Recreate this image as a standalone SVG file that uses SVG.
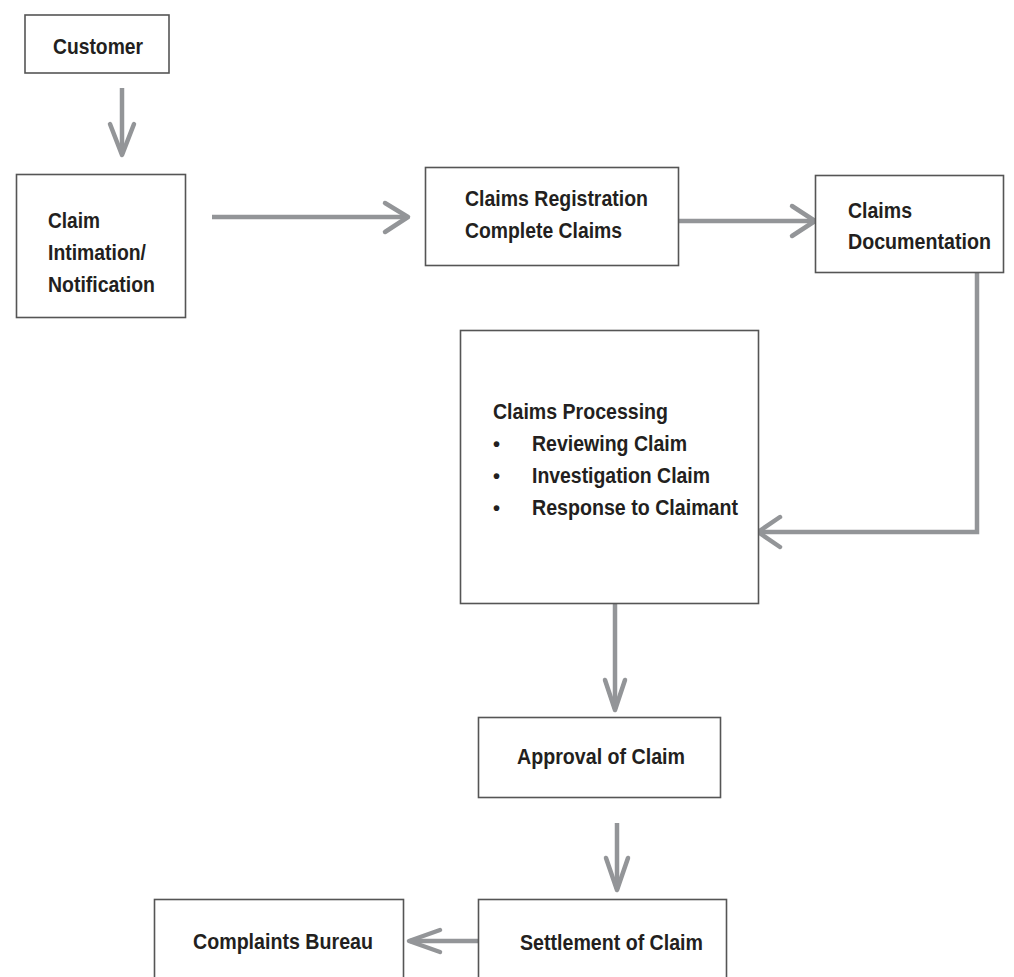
<svg xmlns="http://www.w3.org/2000/svg" width="1014" height="977" viewBox="0 0 1014 977">
<style>
.box{fill:#ffffff;stroke:#555555;stroke-width:1.6}
.t{font-family:"Liberation Sans",Arial,sans-serif;font-weight:bold;font-size:22px;fill:#231f20}
.b{font-family:"Liberation Sans",Arial,sans-serif;font-weight:bold;font-size:20px;fill:#231f20}
.c{fill:none;stroke:#939598;stroke-width:4.5;stroke-linejoin:miter}
.h{fill:none;stroke:#939598;stroke-width:4.5;stroke-linecap:round;stroke-linejoin:round}
</style>
<rect width="1014" height="977" fill="#ffffff"/>
<g id="connectors">
<line class="c" x1="122" y1="88" x2="122" y2="154"/>
<path class="h" d="M110,124 L122,155 L134,124"/>
<line class="c" x1="212" y1="217" x2="406" y2="217"/>
<path class="h" d="M385,203 L408,217 L385,232"/>
<line class="c" x1="678" y1="221" x2="813" y2="221"/>
<path class="h" d="M792,206 L815,221 L792,236"/>
<polyline class="c" points="977,273 977,532 759,532"/>
<path class="h" d="M780,517 L758,532 L780,547"/>
<line class="c" x1="615" y1="603" x2="615" y2="709"/>
<path class="h" d="M605,680 L615,710 L625,680"/>
<line class="c" x1="617" y1="823" x2="617" y2="889"/>
<path class="h" d="M606,858 L617,890 L628,858"/>
<line class="c" x1="478" y1="941" x2="410" y2="941"/>
<path class="h" d="M440,930 L409,941 L440,952"/>
</g>
<g id="customer">
<rect class="box" x="25" y="15" width="144" height="58"/>
<text class="t" x="53" y="54" textLength="90" lengthAdjust="spacingAndGlyphs">Customer</text>
</g>
<g id="claim-intimation">
<rect class="box" x="16.5" y="174.5" width="169" height="143"/>
<text class="t" x="48" y="228" textLength="52" lengthAdjust="spacingAndGlyphs">Claim</text>
<text class="t" x="48" y="260" textLength="98" lengthAdjust="spacingAndGlyphs">Intimation/</text>
<text class="t" x="48" y="292" textLength="107" lengthAdjust="spacingAndGlyphs">Notification</text>
</g>
<g id="claims-registration">
<rect class="box" x="425.5" y="167.5" width="253" height="98"/>
<text class="t" x="465" y="206" textLength="183" lengthAdjust="spacingAndGlyphs">Claims Registration</text>
<text class="t" x="465" y="238" textLength="157" lengthAdjust="spacingAndGlyphs">Complete Claims</text>
</g>
<g id="claims-documentation">
<rect class="box" x="815.5" y="175.5" width="188" height="97"/>
<text class="t" x="848" y="218" textLength="64" lengthAdjust="spacingAndGlyphs">Claims</text>
<text class="t" x="848" y="249" textLength="143" lengthAdjust="spacingAndGlyphs">Documentation</text>
</g>
<g id="claims-processing">
<rect class="box" x="460.5" y="330.5" width="298" height="273"/>
<text class="t" x="493" y="419" textLength="175" lengthAdjust="spacingAndGlyphs">Claims Processing</text>
<text class="b" x="493" y="451">•</text>
<text class="t" x="532" y="451" textLength="155" lengthAdjust="spacingAndGlyphs">Reviewing Claim</text>
<text class="b" x="493" y="483">•</text>
<text class="t" x="532" y="483" textLength="178" lengthAdjust="spacingAndGlyphs">Investigation Claim</text>
<text class="b" x="493" y="515">•</text>
<text class="t" x="532" y="515" textLength="206" lengthAdjust="spacingAndGlyphs">Response to Claimant</text>
</g>
<g id="approval">
<rect class="box" x="478.5" y="717.5" width="242" height="80"/>
<text class="t" x="517" y="764" textLength="168" lengthAdjust="spacingAndGlyphs">Approval of Claim</text>
</g>
<g id="settlement">
<rect class="box" x="478.5" y="899.5" width="248" height="90"/>
<text class="t" x="520" y="950" textLength="183" lengthAdjust="spacingAndGlyphs">Settlement of Claim</text>
</g>
<g id="complaints-bureau">
<rect class="box" x="154.5" y="899.5" width="249" height="90"/>
<text class="t" x="193" y="949" textLength="180" lengthAdjust="spacingAndGlyphs">Complaints Bureau</text>
</g>
</svg>
